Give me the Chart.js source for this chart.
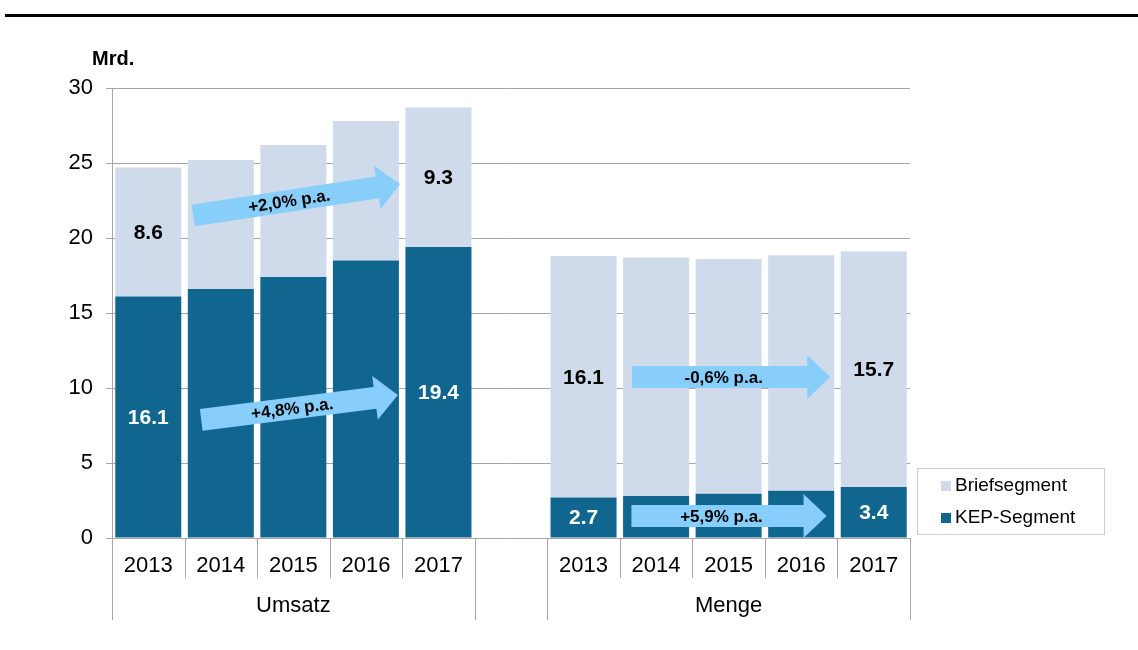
<!DOCTYPE html>
<html>
<head>
<meta charset="utf-8">
<script src="https://cdn.jsdelivr.net/npm/chart.js@4.4.1/dist/chart.umd.min.js"></script>
<style>
  html, body { margin: 0; padding: 0; background: #fff; }
  #wrap { width: 1138px; height: 650px; position: relative; }
</style>
</head>
<body>
<div id="wrap"><canvas id="chart" width="1138" height="650"></canvas></div>
<script>
const categories = ["2013", "2014", "2015", "2016", "2017", "", "2013", "2014", "2015", "2016", "2017"];
const groupNames = ["Umsatz", "Menge"];
const kepValues = [16.1, 16.6, 17.4, 18.5, 19.4, null, 2.7, 2.8, 2.95, 3.15, 3.4];
const briefValues = [8.6, 8.6, 8.8, 9.3, 9.3, null, 16.1, 15.9, 15.65, 15.7, 15.7];
const kepLabels = ["16.1", null, null, null, "19.4", null, "2.7", null, null, null, "3.4"];
const briefLabels = ["8.6", null, null, null, "9.3", null, "16.1", null, null, null, "15.7"];
const yTicks = [0, 5, 10, 15, 20, 25, 30];
const arrowTexts = ["+2,0% p.a.", "+4,8% p.a.", "-0,6% p.a.", "+5,9% p.a."];
const unitLabel = "Mrd.";

const FONT = "'Liberation Sans', Arial, sans-serif";
const GRID = "#A6A6A6";

// arrows: from/to in [category index, value]
const arrowGeom = [
  { from: [0.62, 21.5], to: [3.47, 23.6] },
  { from: [0.73, 7.87], to: [3.44, 9.53] },
  { from: [6.67, 10.73], to: [9.40, 10.73] },
  { from: [6.66, 1.47], to: [9.35, 1.47] },
];

const decoPlugin = {
  id: "deco",
  beforeDraw(chart) {
    const ctx = chart.ctx;
    ctx.save();
    ctx.fillStyle = "#fff";
    ctx.fillRect(0, 0, chart.width, chart.height);
    // top rule
    ctx.fillStyle = "#000";
    ctx.fillRect(5, 14, chart.width - 5, 3);
    ctx.restore();
  },
  afterDraw(chart) {
    const ctx = chart.ctx;
    const x = chart.scales.x;
    const y = chart.scales.y;
    const area = chart.chartArea;
    const half = (x.getPixelForValue(1) - x.getPixelForValue(0)) / 2;
    ctx.save();

    // x axis separators
    ctx.strokeStyle = GRID;
    ctx.lineWidth = 1;
    for (let i = 0; i <= categories.length; i++) {
      const px = Math.round(x.getPixelForValue(i) - half) + 0.5;
      const long = i === 0 || i === 5 || i === 6 || i === categories.length;
      ctx.beginPath();
      ctx.moveTo(px, area.bottom);
      ctx.lineTo(px, area.bottom + (long ? 82 : 40));
      ctx.stroke();
    }

    // group labels
    ctx.fillStyle = "#000";
    ctx.font = "22px " + FONT;
    ctx.textAlign = "center";
    ctx.textBaseline = "middle";
    const g1 = (x.getPixelForValue(0) + x.getPixelForValue(4)) / 2;
    const g2 = (x.getPixelForValue(6) + x.getPixelForValue(10)) / 2;
    ctx.fillText(groupNames[0], g1, area.bottom + 68);
    ctx.fillText(groupNames[1], g2, area.bottom + 68);

    // unit label
    ctx.font = "bold 20px " + FONT;
    ctx.textAlign = "left";
    ctx.fillText(unitLabel, 92, 59);

    // value labels
    ctx.font = "bold 21px " + FONT;
    ctx.textAlign = "center";
    const lbls = [kepLabels, briefLabels];
    const cols = ["#fff", "#000"];
    chart.data.datasets.forEach((ds, di) => {
      const meta = chart.getDatasetMeta(di);
      meta.data.forEach((bar, i) => {
        const t = lbls[di][i];
        if (!t) return;
        ctx.fillStyle = cols[di];
        ctx.fillText(t, bar.x, (bar.y + bar.base) / 2 + 1);
      });
    });

    // arrows
    arrowGeom.forEach((a, k) => {
      const x0 = x.getPixelForValue(a.from[0]);
      const y0 = y.getPixelForValue(a.from[1]);
      const x1 = x.getPixelForValue(a.to[0]);
      const y1 = y.getPixelForValue(a.to[1]);
      const len = Math.hypot(x1 - x0, y1 - y0);
      const ang = Math.atan2(y1 - y0, x1 - x0);
      const sw = 11, hw = 22, hl = 23;
      ctx.save();
      ctx.translate(x0, y0);
      ctx.rotate(ang);
      ctx.fillStyle = "#87CEFA";
      ctx.beginPath();
      ctx.moveTo(0, -sw);
      ctx.lineTo(len - hl, -sw);
      ctx.lineTo(len - hl, -hw);
      ctx.lineTo(len, 0);
      ctx.lineTo(len - hl, hw);
      ctx.lineTo(len - hl, sw);
      ctx.lineTo(0, sw);
      ctx.closePath();
      ctx.fill();
      ctx.fillStyle = "#000";
      ctx.font = "bold 17px " + FONT;
      ctx.textAlign = "center";
      ctx.textBaseline = "middle";
      ctx.fillText(arrowTexts[k], (len - hl) / 2 + 4, 1);
      ctx.restore();
    });

    // legend
    const lx = 917, ly = 468, lw = 187, lh = 66;
    ctx.strokeStyle = "#CFCFCF";
    ctx.lineWidth = 1;
    ctx.strokeRect(lx + 0.5, ly + 0.5, lw, lh);
    ctx.font = "19px " + FONT;
    ctx.textAlign = "left";
    ctx.textBaseline = "middle";
    const order = [1, 0];
    order.forEach((di, r) => {
      const ds = chart.data.datasets[di];
      const cy = ly + 18 + r * 32;
      ctx.fillStyle = ds.backgroundColor;
      ctx.fillRect(lx + 24, cy - 5, 10, 10);
      ctx.fillStyle = "#000";
      ctx.fillText(ds.label, lx + 38, cy);
    });

    ctx.restore();
  },
};

new Chart(document.getElementById("chart"), {
  type: "bar",
  data: {
    labels: categories,
    datasets: [
      {
        label: "KEP-Segment",
        data: kepValues,
        backgroundColor: "#10668F",
        categoryPercentage: 0.91,
        barPercentage: 1,
      },
      {
        label: "Briefsegment",
        data: briefValues,
        backgroundColor: "#CFDBEB",
        categoryPercentage: 0.91,
        barPercentage: 1,
      },
    ],
  },
  options: {
    responsive: false,
    animation: false,
    layout: { padding: { left: 0, top: 88, right: 228, bottom: 0 } },
    plugins: {
      legend: { display: false },
      tooltip: { enabled: false },
    },
    scales: {
      x: {
        stacked: true,
        grid: { display: false, drawTicks: false },
        border: { display: true, color: GRID, width: 1 },
        ticks: {
          color: "#000",
          font: { family: FONT, size: 22 },
          padding: 15,
          maxRotation: 0,
          autoSkip: false,
        },
        afterFit(scale) {
          scale.height = 112;
        },
      },
      y: {
        stacked: true,
        min: 0,
        max: 30,
        afterBuildTicks(scale) {
          scale.ticks = yTicks.map((v) => ({ value: v }));
        },
        grid: { color: GRID, tickLength: 6, drawTicks: true },
        border: { display: true, color: GRID, width: 1 },
        ticks: {
          color: "#000",
          font: { family: FONT, size: 22 },
          padding: 13,
        },
        afterFit(scale) {
          scale.width = 112;
        },
      },
    },
  },
  plugins: [decoPlugin],
});
</script>
</body>
</html>
